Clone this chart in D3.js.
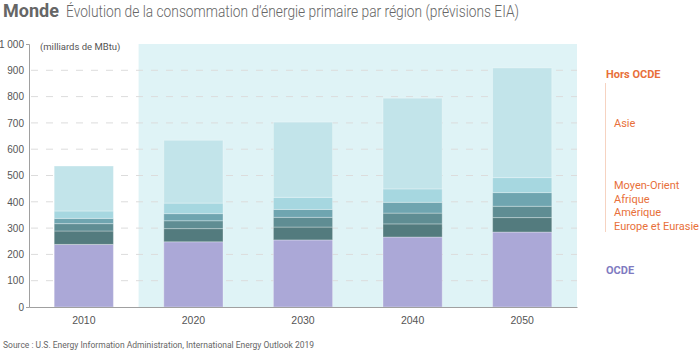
<!DOCTYPE html>
<html lang="fr">
<head>
<meta charset="UTF-8">
<title>Monde - consommation d'énergie primaire</title>
<script src="https://d3js.org/d3.v7.min.js"></script>
<style>
  body { margin: 0; background: #fff; }
  svg { font-family: Roboto, "Noto Sans", sans-serif; display: block; }
</style>
</head>
<body>
<svg width="700" height="351"></svg>
<script>
// data (milliards de MBtu)
const years = ["2010", "2020", "2030", "2040", "2050"];
const ocde = [238, 248, 255, 266, 285];
const europeEurasie = [51, 50, 49, 50, 55];
const amerique = [28, 30, 37, 41, 43];
const afrique = [20, 27, 30, 41, 52];
const moyenOrient = [28, 40, 46, 51, 57];
const asie = [171, 239, 286, 345, 417];
const yTicks = [0, 100, 200, 300, 400, 500, 600, 700, 800, 900, 1000];

const seriesKeys = ["ocde", "europe", "amerique", "afrique", "moyenOrient", "asie"];
const colors = {
  ocde: "#aba8d7",
  europe: "#537b7e",
  amerique: "#5f8d93",
  afrique: "#6fa5b0",
  moyenOrient: "#a6d7e0",
  asie: "#c2e4ea"
};

const rows = years.map((y, i) => ({
  year: y,
  ocde: ocde[i],
  europe: europeEurasie[i],
  amerique: amerique[i],
  afrique: afrique[i],
  moyenOrient: moyenOrient[i],
  asie: asie[i]
}));

const svg = d3.select("svg");
const x = d3.scaleBand().domain(years).range([29, 577]).paddingInner(0.46).paddingOuter(0.23);
const y = d3.scaleLinear().domain([0, 1000]).range([307, 44]);

const fr = d3.formatLocale({ decimal: ",", thousands: " ", grouping: [3], currency: ["", " €"] });

// shaded forecast zone
const step = x.step();
const shadeX = x("2010") + x.bandwidth() + (step - x.bandwidth()) / 2;
svg.append("rect")
  .attr("x", shadeX).attr("y", y(1000))
  .attr("width", x.range()[1] - shadeX).attr("height", y(0) - y(1000))
  .attr("fill", "#dff3f6");

// gridlines
svg.append("g").selectAll("line")
  .data(yTicks.filter(d => d > 0 && d < 1000))
  .join("line")
  .attr("x1", 31).attr("x2", 577)
  .attr("y1", d => y(d)).attr("y2", d => y(d))
  .attr("stroke", "#dcdcdc").attr("stroke-width", 1)
  .attr("stroke-dasharray", "7,8");

// stacked bars
const stack = d3.stack().keys(seriesKeys)(rows);
svg.append("g").selectAll("g")
  .data(stack)
  .join("g")
  .attr("fill", d => colors[d.key])
  .selectAll("rect")
  .data(d => d)
  .join("rect")
  .attr("x", d => x(d.data.year))
  .attr("y", d => y(d[1]))
  .attr("width", x.bandwidth())
  .attr("height", d => y(d[0]) - y(d[1]))
  .attr("stroke", "rgba(255,255,255,0.3)")
  .attr("stroke-width", 1);

// axes
const yAxis = svg.append("g")
  .attr("transform", "translate(29,0)")
  .call(d3.axisLeft(y).tickValues(yTicks).tickFormat(fr.format(",")).tickSizeInner(0).tickSizeOuter(3).tickPadding(5));
yAxis.select(".domain").attr("stroke", "#a0a0a0");
yAxis.selectAll("text").attr("fill", "#555").attr("font-size", 10);

const xAxis = svg.append("g")
  .attr("transform", "translate(0,307)")
  .call(d3.axisBottom(x).tickSize(0).tickSizeOuter(0).tickPadding(10));
xAxis.select(".domain").attr("stroke", "#a0a0a0");
xAxis.selectAll("text").attr("fill", "#555").attr("font-size", 10.5);

svg.append("text")
  .attr("x", 40).attr("y", 50)
  .attr("font-size", 9.5).attr("fill", "#555")
  .text("(milliards de MBtu)");

// title
const title = svg.append("text").attr("x", 3).attr("y", 17).attr("fill", "#666");
title.append("tspan").attr("font-weight", "bold").attr("font-size", 18).text("Monde");
title.append("tspan").attr("x", 66).attr("font-size", 17).attr("font-weight", 300)
  .attr("textLength", 453).attr("lengthAdjust", "spacingAndGlyphs")
  .text("Évolution de la consommation d’énergie primaire par région (prévisions EIA)");

// legend
const orange = "#e8703a";
svg.append("text").attr("x", 606).attr("y", 78)
  .attr("font-size", 11).attr("font-weight", "bold").attr("fill", orange).text("Hors OCDE");
svg.append("line").attr("x1", 605.5).attr("x2", 605.5).attr("y1", 83).attr("y2", 232)
  .attr("stroke", "#f6d3c1").attr("stroke-width", 1);

const legendLabels = ["Asie", "Moyen-Orient", "Afrique", "Amérique", "Europe et Eurasie"];
const legendY = [127, 189, 202.5, 216, 229.5];
svg.append("g").selectAll("text")
  .data(legendLabels)
  .join("text")
  .attr("x", 614).attr("y", (d, i) => legendY[i])
  .attr("font-size", 11).attr("fill", orange)
  .text(d => d);

svg.append("text").attr("x", 606).attr("y", 274)
  .attr("font-size", 11).attr("font-weight", "bold").attr("fill", "#7f7bc1").text("OCDE");

// source
svg.append("text").attr("x", 3).attr("y", 348)
  .attr("font-size", 8.5).attr("fill", "#666")
  .text("Source : U.S. Energy Information Administration, International Energy Outlook 2019");
</script>
</body>
</html>
